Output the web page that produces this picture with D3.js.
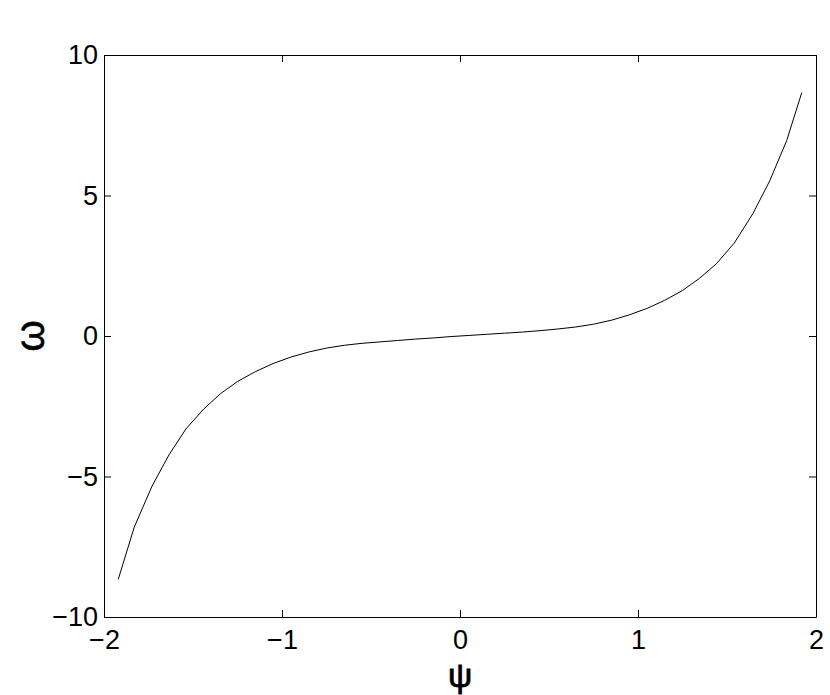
<!DOCTYPE html>
<html>
<head>
<meta charset="utf-8">
<script src="https://cdn.jsdelivr.net/npm/d3@7"></script>
<style>
  body { margin: 0; background: #fff; }
  svg { display: block; }
  text { font-family: "Liberation Sans", Arial, Helvetica, sans-serif; }
</style>
</head>
<body>
<div id="chart"></div>
<script>
// curve
const psi = [-1.92, -1.83, -1.73, -1.635, -1.54, -1.44, -1.345, -1.25, -1.15, -1.05,
  -0.95, -0.85, -0.75, -0.65, -0.55, -0.45, -0.35, -0.25, -0.15, -0.05,
  0.05, 0.15, 0.25, 0.35, 0.45, 0.55, 0.65, 0.75, 0.85, 0.95,
  1.05, 1.15, 1.25, 1.345, 1.44, 1.54, 1.645, 1.74, 1.835, 1.92];
const omega = [-8.66, -6.8, -5.34, -4.23, -3.31, -2.6, -2.05, -1.62, -1.27, -0.98,
  -0.75, -0.57, -0.43, -0.33, -0.26, -0.21, -0.16, -0.11, -0.07, -0.02,
  0.02, 0.06, 0.1, 0.14, 0.19, 0.25, 0.32, 0.42, 0.56, 0.75,
  0.98, 1.27, 1.62, 2.05, 2.57, 3.3, 4.35, 5.52, 6.95, 8.66];
const xTicks = [-2, -1, 0, 1, 2];
const yTicks = [-10, -5, 0, 5, 10];

const W = 830, H = 695;
const m = { left: 104, right: 14, top: 55, bottom: 78 };
const iw = W - m.left - m.right, ih = H - m.top - m.bottom;

const svg = d3.select("#chart").append("svg")
    .attr("width", W)
    .attr("height", H);

const x = d3.scaleLinear().domain([-2, 2]).range([0, iw]);
const y = d3.scaleLinear().domain([-10, 10]).range([ih, 0]);

const g = svg.append("g")
    .attr("transform", `translate(${m.left},${m.top})`);

const tick = 7;
const fmt = d => d < 0 ? "\u2212" + Math.abs(d) : String(d);

// axes on all four sides, ticks pointing in
const axBottom = g.append("g")
    .attr("transform", `translate(0,${ih})`)
    .call(d3.axisBottom(x).tickValues(xTicks).tickSizeInner(-tick).tickSizeOuter(0).tickPadding(13).tickFormat(fmt));
const axTop = g.append("g")
    .call(d3.axisTop(x).tickValues(xTicks).tickSizeInner(-tick).tickSizeOuter(0).tickFormat(""));
const axLeft = g.append("g")
    .call(d3.axisLeft(y).tickValues(yTicks).tickSizeInner(-tick).tickSizeOuter(0).tickPadding(6).tickFormat(fmt));
const axRight = g.append("g")
    .attr("transform", `translate(${iw},0)`)
    .call(d3.axisRight(y).tickValues(yTicks).tickSizeInner(-tick).tickSizeOuter(0).tickFormat(""));

[axBottom, axTop, axLeft, axRight].forEach(a => {
  a.select(".domain").attr("stroke", "#000").attr("stroke-width", 1);
  a.selectAll(".tick line").attr("stroke", "#000");
  a.selectAll("text").attr("font-size", 27).attr("fill", "#000")
    .attr("font-family", "'Liberation Sans', Arial, sans-serif");
});

const line = d3.line()
    .x((d, i) => x(psi[i]))
    .y(d => y(d));

g.append("path")
    .datum(omega)
    .attr("fill", "none")
    .attr("stroke", "#000")
    .attr("stroke-width", 1)
    .attr("d", line);

// axis labels
svg.append("text")
    .attr("x", m.left + iw / 2)
    .attr("y", 687)
    .attr("text-anchor", "middle")
    .attr("font-family", "'DejaVu Sans', sans-serif")
    .attr("font-size", 34)
    .attr("stroke", "#000")
    .attr("stroke-width", 0.8)
    .text("\u03C8");

svg.append("text")
    .attr("transform", `translate(44,${m.top + ih / 2}) rotate(-90)`)
    .attr("text-anchor", "middle")
    .attr("font-family", "'DejaVu Sans', sans-serif")
    .attr("font-size", 40)
    .attr("stroke", "#000")
    .attr("stroke-width", 0.6)
    .text("\u03C9");
</script>
</body>
</html>
